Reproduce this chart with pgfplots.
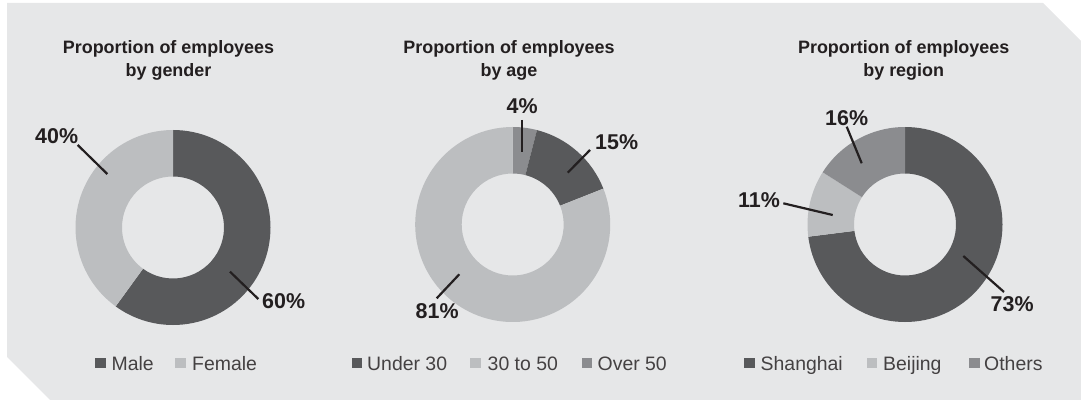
\documentclass[border=0pt]{standalone}
\usepackage{pgfplots}
\pgfplotsset{compat=1.18}
\usepackage{fontspec}
\setmainfont{Liberation Sans}

\definecolor{cdark}{HTML}{58595B}
\definecolor{clight}{HTML}{BCBEC0}
\definecolor{cmed}{HTML}{8B8C8F}
\definecolor{cbg}{HTML}{E6E7E8}
\definecolor{ctext}{HTML}{231F20}

% shares in percent, clockwise from 12 o'clock
\def\genderdata{60/cdark,40/clight}
\def\agedata{4/cmed,15/cdark,81/clight}
\def\regiondata{73/cdark,11/clight,16/cmed}

\newcommand\ringpart[5]{% cx, cy, start, end, colour
  \fill[#5] ([shift={(#3:97.5bp)}]axis cs:#1,#2)
    arc[start angle=#3, end angle=#4, radius=97.5bp]
    -- ([shift={(#4:51bp)}]axis cs:#1,#2)
    arc[start angle=#4, end angle=#3, radius=51bp] -- cycle;}
\newcommand\donut[3]{% cx, cy, data
  \xdef\cum{90}%
  \foreach \v/\c in #3 {%
    \pgfmathsetmacro\nxt{\cum-3.6*\v}%
    \edef\tmp{\noexpand\ringpart{#1}{#2}{\cum}{\nxt}{\c}}%
    \tmp
    \xdef\cum{\nxt}}}

\newcommand\ttl[3]{% x, y, text
  \node[anchor=base, inner sep=0, text=ctext,
    font=\fontsize{18}{21}\selectfont\bfseries] at (#1,#2) {#3};}
\newcommand\lab[3]{%
  \node[anchor=base west, inner sep=0, text=ctext,
    font=\fontsize{21.5}{24}\selectfont\bfseries] at (#1,#2) {#3};}
\newcommand\lgd[4]{% square x, text x, colour, text
  \fill[#3] (#1,31.5) rectangle ++(10.5,10.5);
  \node[anchor=base west, inner sep=0, text=ctext!85!white,
    font=\fontsize{19.5}{22}\selectfont] at (#2,30) {#4};}

\begin{document}
\begin{tikzpicture}
\useasboundingbox (0,0) rectangle (1081bp,400bp);
\begin{axis}[
    at={(0,0)}, anchor=south west,
    width=1081bp, height=400bp, scale only axis,
    xmin=0, xmax=1081, ymin=0, ymax=400,
    hide axis, clip=false,
]
\fill[cbg] (7,397) -- (1043,397) -- (1081,359) -- (1081,0) -- (50,0) -- (7,43) -- cycle;

\donut{173}{172.5}{\genderdata}
\donut{512.7}{175.5}{\agedata}
\donut{905}{175.5}{\regiondata}

% titles
\ttl{168.5}{346.7}{Proportion of employees}
\ttl{168.5}{323.5}{by gender}
\ttl{509}{346.7}{Proportion of employees}
\ttl{509}{323.5}{by age}
\ttl{903.7}{346.7}{Proportion of employees}
\ttl{903.7}{323.5}{by region}

% leader lines
\draw[ctext, line width=2.2bp] (230,128.3) -- (258.3,101);
\draw[ctext, line width=2.2bp] (77.7,255) -- (107.3,226);
\draw[ctext, line width=2.2bp] (522.3,280) -- (522.3,248.3);
\draw[ctext, line width=2.2bp] (567.7,227.3) -- (590,250);
\draw[ctext, line width=2.2bp] (459.3,125.7) -- (436.7,101.7);
\draw[ctext, line width=2.2bp] (963.3,144) -- (1004,108);
\draw[ctext, line width=2.2bp] (783.3,196.7) -- (832.7,185);
\draw[ctext, line width=2.2bp] (846.7,273.3) -- (861.7,236.7);

% value labels
\lab{262}{92}{60\%}
\lab{35}{257}{40\%}
\lab{506.5}{287}{4\%}
\lab{595}{251}{15\%}
\lab{415.5}{82}{81\%}
\lab{990.5}{88.5}{73\%}
\lab{738}{193}{11\%}
\lab{825}{275}{16\%}

% legends
\lgd{95}{111.5}{cdark}{Male}
\lgd{175}{192}{clight}{Female}
\lgd{351.7}{367}{cdark}{Under 30}
\lgd{470}{487.5}{clight}{30 to 50}
\lgd{581.7}{597.5}{cmed}{Over 50}
\lgd{744.3}{760.5}{cdark}{Shanghai}
\lgd{866.7}{883}{clight}{Beijing}
\lgd{969.3}{984}{cmed}{Others}
\end{axis}
\end{tikzpicture}
\end{document}
